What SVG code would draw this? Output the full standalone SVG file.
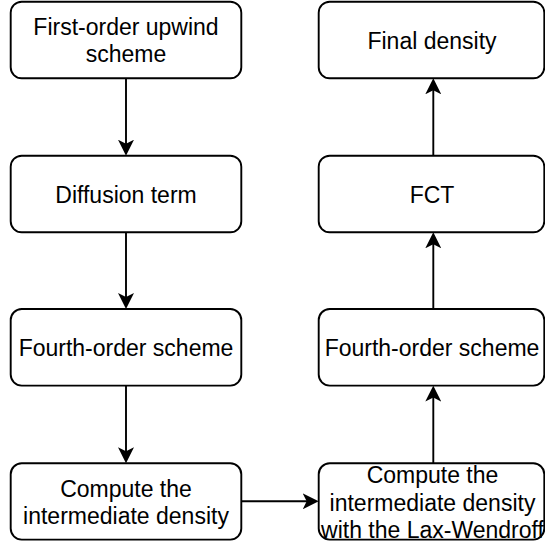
<svg xmlns="http://www.w3.org/2000/svg" width="545" height="547" viewBox="0 0 545 547">
<style>
.box{fill:#ffffff;stroke:#000000;stroke-width:1.9}
.lbl{font-family:"Liberation Sans",Arial,Helvetica,sans-serif;font-size:23px;fill:#000000;text-anchor:middle}
.edge{fill:none;stroke:#000000;stroke-width:1.9}
</style>
<defs>
<marker id="arr" markerUnits="userSpaceOnUse" viewBox="0 0 16 16" markerWidth="16" markerHeight="16" refX="12" refY="8" orient="auto">
<path d="M0,0 L16,8 L0,16 L4,8 Z" fill="#000000"/>
</marker>
</defs>
<rect width="545" height="547" fill="#ffffff"/>
<g id="edges">
<line class="edge" x1="126" y1="78.3" x2="126" y2="151.7" marker-end="url(#arr)"/>
<line class="edge" x1="126" y1="232.3" x2="126" y2="305" marker-end="url(#arr)"/>
<line class="edge" x1="126" y1="385.6" x2="126" y2="459.3" marker-end="url(#arr)"/>
<line class="edge" x1="241.3" y1="501.3" x2="314.7" y2="501.3" marker-end="url(#arr)"/>
<line class="edge" x1="433.3" y1="463.3" x2="433.3" y2="389.6" marker-end="url(#arr)"/>
<line class="edge" x1="433.3" y1="309" x2="433.3" y2="236.3" marker-end="url(#arr)"/>
<line class="edge" x1="433.3" y1="155.7" x2="433.3" y2="82.3" marker-end="url(#arr)"/>
</g>
<g id="n1">
<rect class="box" x="10.7" y="1.7" width="230.6" height="76.6" rx="11" ry="11"/>
<text class="lbl" x="126" y="35.2">First-order upwind</text>
<text class="lbl" x="126" y="62.4">scheme</text>
</g>
<g id="n2">
<rect class="box" x="10.7" y="155.7" width="230.6" height="76.6" rx="11" ry="11"/>
<text class="lbl" x="126" y="202.6">Diffusion term</text>
</g>
<g id="n3">
<rect class="box" x="10.7" y="309" width="230.6" height="76.6" rx="11" ry="11"/>
<text class="lbl" x="126" y="355.9">Fourth-order scheme</text>
</g>
<g id="n4">
<rect class="box" x="10.7" y="463.3" width="230.6" height="76.3" rx="11" ry="11"/>
<text class="lbl" x="126" y="496.5">Compute the</text>
<text class="lbl" x="126" y="523.7">intermediate density</text>
</g>
<g id="n5">
<rect class="box" x="318.7" y="1.7" width="225.6" height="76.6" rx="11" ry="11"/>
<text class="lbl" x="432" y="48.6">Final density</text>
</g>
<g id="n6">
<rect class="box" x="318.7" y="155.7" width="225.6" height="76.6" rx="11" ry="11"/>
<text class="lbl" x="432" y="202.6">FCT</text>
</g>
<g id="n7">
<rect class="box" x="318.7" y="309" width="225.6" height="76.6" rx="11" ry="11"/>
<text class="lbl" x="432" y="355.9">Fourth-order scheme</text>
</g>
<g id="n8">
<rect class="box" x="318.7" y="463.3" width="225.6" height="76.3" rx="11" ry="11"/>
<text class="lbl" x="432.5" y="483.4">Compute the</text>
<text class="lbl" x="432.5" y="510.9">intermediate density</text>
<text class="lbl" x="432.5" y="538.3">with the Lax-Wendroff</text>
</g>
</svg>
